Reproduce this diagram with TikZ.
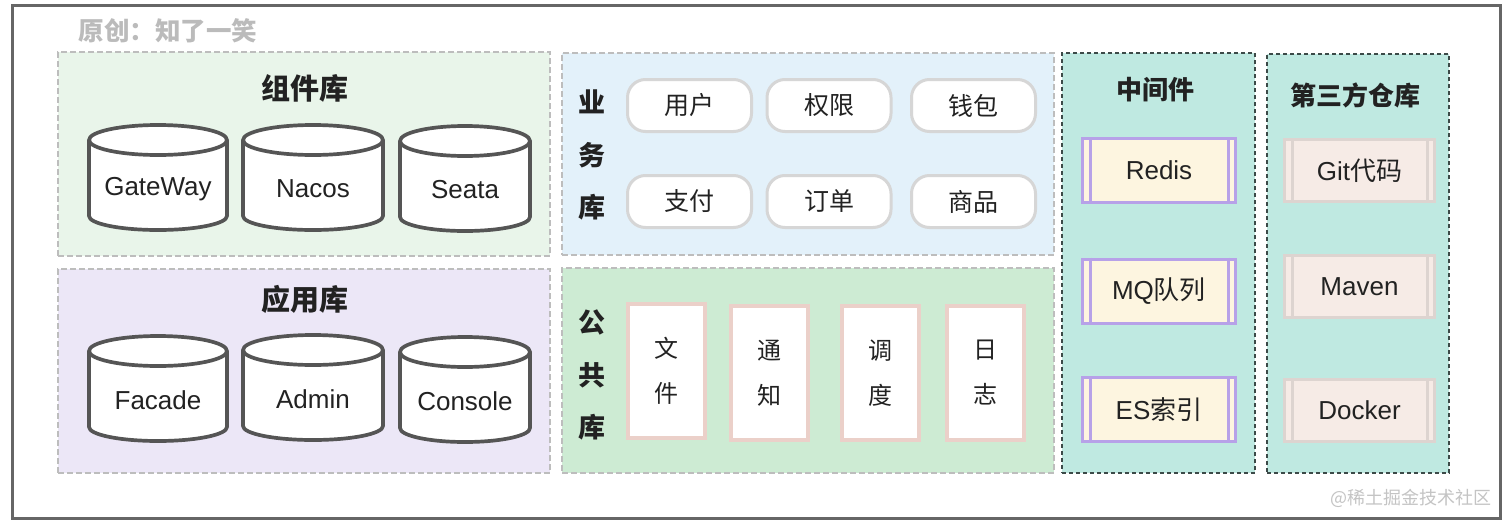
\documentclass[tikz,border=0pt]{standalone}
\usepackage{fontspec}
\setmainfont{Liberation Sans}
\newfontfamily\cjk{Noto Sans CJK SC}
\definecolor{framegray}{HTML}{666666}
\definecolor{titlegray}{HTML}{BBBBBB}
\definecolor{wmgray}{HTML}{C4C4C4}
\definecolor{dashgray}{HTML}{BDBDBD}
\definecolor{dashdark}{HTML}{3C4A48}
\definecolor{pgreen}{HTML}{E9F5EA}
\definecolor{plav}{HTML}{ECE7F7}
\definecolor{pblue}{HTML}{E3F1FA}
\definecolor{pgreen2}{HTML}{CDEBD3}
\definecolor{pteal}{HTML}{BFE9E1}
\definecolor{roundgray}{HTML}{D6D6D6}
\definecolor{pinkline}{HTML}{EBD0C9}
\definecolor{lavline}{HTML}{B7A1E8}
\definecolor{cream}{HTML}{FDF5E0}
\definecolor{rosefill}{HTML}{F6EBE6}
\definecolor{roseline}{HTML}{DDD4D0}
\definecolor{cylline}{HTML}{555555}
\definecolor{txt}{HTML}{222222}
\begin{document}
\begin{tikzpicture}[x=1pt,y=1pt,
  panel/.style={draw=dashgray, dash pattern=on 6pt off 3pt, line width=1.1pt, inner sep=0pt},
  darkpanel/.style={draw=dashdark, dash pattern=on 4pt off 3pt, line width=1.2pt, inner sep=0pt, fill=pteal},
  ptitle/.style={font=\cjk\bfseries\fontsize{26}{30}\selectfont, text=txt},
  bigtitle/.style={font=\cjk\bfseries\fontsize{29}{33}\selectfont, text=txt},
  vlabel/.style={font=\cjk\bfseries\fontsize{27}{52.5}\selectfont, text=txt, align=center},
  cylbody/.style={draw=cylline, line width=3.7pt, fill=white, line join=round},
  cyltext/.style={font=\fontsize{26}{30}\selectfont, text=txt},
  roundbox/.style={draw=roundgray, line width=3pt, fill=white, rounded corners=18pt,
    minimum width=124pt, minimum height=52pt, inner sep=0pt, font=\cjk\fontsize{25}{30}\selectfont, text=txt},
  tallbox/.style={draw=pinkline, line width=4pt, fill=white, minimum width=77pt, minimum height=134pt,
    inner sep=0pt, align=center, font=\cjk\fontsize{24}{45}\selectfont, text=txt},
  midbox/.style={draw=lavline, line width=3pt, fill=cream, minimum width=153pt, minimum height=64pt,
    inner sep=0pt, font=\fontsize{26}{30}\selectfont, text=txt},
  repobox/.style={draw=roseline, line width=3pt, fill=rosefill, minimum width=150pt, minimum height=62pt,
    inner sep=0pt, font=\fontsize{26}{30}\selectfont, text=txt}
]
\useasboundingbox (0,0) rectangle (1512,-525);
\fill[white] (0,0) rectangle (1512,-525);
% outer frame
\node[draw=framegray, line width=3pt, minimum width=1488pt, minimum height=513pt, inner sep=0pt] (frame) at (756,-261.5) {};
\node[font=\cjk\bfseries\fontsize{25.5}{30}\selectfont, text=titlegray, anchor=west] (author) at (75,-31) {原创：知了一笑};
\node[font=\cjk\fontsize{18}{22}\selectfont, text=wmgray, anchor=east] (wm) at (1495,-498) {@稀土掘金技术社区};

% panels
\node[panel, fill=pgreen, minimum width=492pt, minimum height=204pt] (pzj) at (304,-154) {};
\node[panel, fill=plav, minimum width=492pt, minimum height=204pt] (pyy) at (304,-371) {};
\node[panel, fill=pblue, minimum width=492pt, minimum height=202pt] (pyw) at (808,-154) {};
\node[panel, fill=pgreen2, minimum width=492pt, minimum height=205pt] (pgg) at (808,-370.5) {};
\node[darkpanel, minimum width=193pt, minimum height=420pt] (pmid) at (1158.5,-263) {};
\node[darkpanel, minimum width=182pt, minimum height=419pt] (prepo) at (1358,-263.5) {};

% titles
\node[bigtitle] (tzj) at (305,-88) {组件库};
\node[bigtitle] (tyy) at (305,-299) {应用库};
\node[ptitle] (tmid) at (1155,-90) {中间件};
\node[ptitle] (trepo) at (1355,-95) {第三方仓库};
\node[vlabel] (tyw) at (592,-155) {业\\务\\库};
\node[vlabel] (tgg) at (592,-375) {公\\共\\库};

% cylinders
\newcommand\dbcyl[5]{%
  \draw[cylbody] ({#2-#4},{#3+49}) -- ({#2-#4},{#3-27})
    arc[start angle=180,end angle=360,x radius=#4,y radius=14]
    -- ({#2+#4},{#3+49})
    arc[start angle=0,end angle=180,x radius=#4,y radius=15] -- cycle;
  \draw[cylbody, fill=none] ({#2-#4},{#3+49}) arc[start angle=180,end angle=360,x radius=#4,y radius=15];
  \node[cyltext] (#1) at (#2,#3) {#5};}
\dbcyl{gateway}{158}{-189}{69}{GateWay}
\dbcyl{nacos}{313}{-189}{70}{Nacos}
\dbcyl{seata}{465}{-190}{65}{Seata}
\dbcyl{facade}{158}{-400}{69}{Facade}
\dbcyl{admin}{313}{-399}{70}{Admin}
\dbcyl{console}{465}{-401}{65}{Console}

% business boxes
\node[roundbox] (yh) at (689.5,-105.5) {用户};
\node[roundbox] (qx) at (829,-105.5) {权限};
\node[roundbox] (qb) at (973.5,-105.5) {钱包};
\node[roundbox] (zf) at (689.5,-201.5) {支付};
\node[roundbox] (dd) at (829,-201.5) {订单};
\node[roundbox] (sp) at (973.5,-201.5) {商品};

% common boxes
\node[tallbox] (wj) at (666.5,-371) {文\\件};
\node[tallbox] (tz) at (769,-373) {通\\知};
\node[tallbox] (dj) at (880,-373) {调\\度};
\node[tallbox] (rz) at (985.5,-373) {日\\志};

% middleware
\node[midbox] (redis) at (1159,-170.5) {Redis};
\node[midbox] (mq) at (1159,-291) {MQ{\cjk 队列}};
\node[midbox] (es) at (1159,-409.5) {ES{\cjk 索引}};
\foreach \n in {redis,mq,es}{
  \draw[lavline, line width=3pt] ([xshift=9pt]\n.north west) -- ([xshift=9pt]\n.south west);
  \draw[lavline, line width=3pt] ([xshift=-9pt]\n.north east) -- ([xshift=-9pt]\n.south east);
}
% repos
\node[repobox] (git) at (1359.5,-170.5) {Git{\cjk 代码}};
\node[repobox] (maven) at (1359.5,-286.5) {Maven};
\node[repobox] (docker) at (1359.5,-410) {Docker};
\foreach \n in {git,maven,docker}{
  \draw[roseline, line width=3pt] ([xshift=9pt]\n.north west) -- ([xshift=9pt]\n.south west);
  \draw[roseline, line width=3pt] ([xshift=-9pt]\n.north east) -- ([xshift=-9pt]\n.south east);
}
\end{tikzpicture}
\end{document}
